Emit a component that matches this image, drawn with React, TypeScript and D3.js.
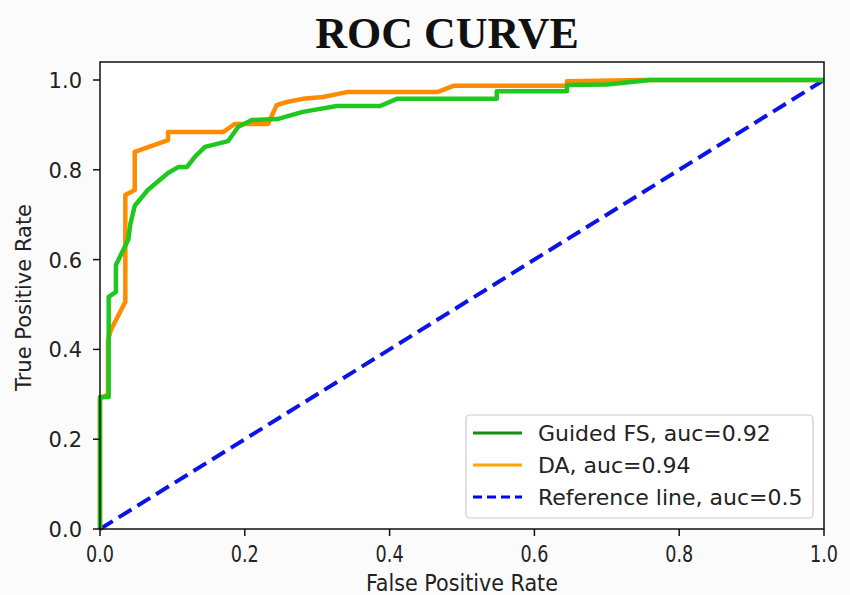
import React from "react";
import * as d3 from "d3";

const guidedFpr = [0, 0, 0.012, 0.012, 0.022, 0.022, 0.039, 0.042, 0.048, 0.066, 0.094, 0.108, 0.12, 0.131, 0.145, 0.177, 0.191, 0.21, 0.245, 0.28, 0.327, 0.387, 0.41, 0.548, 0.548, 0.645, 0.645, 0.7, 0.76, 1];
const guidedTpr = [0, 0.294, 0.294, 0.517, 0.528, 0.588, 0.644, 0.68, 0.72, 0.755, 0.793, 0.806, 0.806, 0.829, 0.851, 0.864, 0.896, 0.911, 0.913, 0.929, 0.942, 0.942, 0.958, 0.958, 0.975, 0.975, 0.989, 0.99, 1, 1];

const daFpr = [0, 0, 0.011, 0.011, 0.015, 0.035, 0.035, 0.048, 0.048, 0.094, 0.094, 0.17, 0.186, 0.232, 0.244, 0.258, 0.28, 0.308, 0.341, 0.466, 0.488, 0.645, 0.645, 0.75, 1];
const daTpr = [0, 0.29, 0.3, 0.42, 0.443, 0.506, 0.744, 0.755, 0.84, 0.866, 0.884, 0.884, 0.902, 0.902, 0.944, 0.951, 0.958, 0.962, 0.973, 0.973, 0.987, 0.987, 0.997, 1, 1];

const refFpr = [0, 1];
const refTpr = [0, 1];

const xTicks = [0, 0.2, 0.4, 0.6, 0.8, 1.0];
const yTicks = [0, 0.2, 0.4, 0.6, 0.8, 1.0];

const legendLabels = ["Guided FS, auc=0.92", "DA, auc=0.94", "Reference line, auc=0.5"];

const W = 850, H = 595;
const left = 100, right = 824, top = 62, bottom = 529;

export default function App() {
  const x = d3.scaleLinear().domain([0, 1]).range([left, right]);
  const y = d3.scaleLinear().domain([0, 1]).range([bottom, 80]);
  const line = d3.line<[number, number]>().x(d => x(d[0])).y(d => y(d[1]));
  const zip = (a: number[], b: number[]) => a.map((v, i) => [v, b[i]] as [number, number]);

  const legendRows = [
    { label: legendLabels[0], color: "#138d13", dash: "" },
    { label: legendLabels[1], color: "#ffa500", dash: "" },
    { label: legendLabels[2], color: "#0000ff", dash: "9,5" },
  ];

  return (
    <svg width={W} height={H} style={{ position: "absolute", left: 0, top: 0, background: "#fdfdfd" }}>
      <rect x={0} y={0} width={W} height={H} fill="#fbfbfb" />
      <rect x={left} y={top} width={right - left} height={bottom - top} fill="#ffffff" />
      <text x={447} y={48} textAnchor="middle" fontFamily="Liberation Serif, serif" fontWeight="bold" fontSize={44} fill="#111">ROC CURVE</text>

      <path d={line(zip(refFpr, refTpr)) || ""} fill="none" stroke="#0a14e6" strokeWidth={4} strokeDasharray="15,7" />
      <path d={line(zip(daFpr, daTpr)) || ""} fill="none" stroke="#ff8c00" strokeWidth={4.5} strokeLinejoin="round" />
      <path d={line(zip(guidedFpr, guidedTpr)) || ""} fill="none" stroke="#1ec81e" strokeWidth={4.5} strokeLinejoin="round" />

      <rect x={left} y={top} width={right - left} height={bottom - top} fill="none" stroke="#111" strokeWidth={1.5} />

      {xTicks.map(t => (
        <g key={"x" + t}>
          <line x1={x(t)} x2={x(t)} y1={bottom} y2={bottom + 7} stroke="#111" strokeWidth={1.5} />
          <text x={x(t)} y={bottom + 33} textAnchor="middle" fontFamily="DejaVu Sans Condensed, DejaVu Sans" fontSize={23} fill="#222" transform={`translate(${x(t)},0) scale(0.85,1) translate(${-x(t)},0)`}>{t.toFixed(1)}</text>
        </g>
      ))}
      {yTicks.map(t => (
        <g key={"y" + t}>
          <line x1={left - 7} x2={left} y1={y(t)} y2={y(t)} stroke="#111" strokeWidth={1.5} />
          <text x={left - 18} y={y(t) + 8} textAnchor="end" fontFamily="DejaVu Sans" fontSize={21} fill="#222">{t.toFixed(1)}</text>
        </g>
      ))}

      <text x={462} y={591} textAnchor="middle" fontFamily="DejaVu Sans Condensed, DejaVu Sans" fontSize={23} fill="#222">False Positive Rate</text>
      <text transform={`translate(31,${(top + bottom) / 2 + 2}) rotate(-90)`} textAnchor="middle" fontFamily="DejaVu Sans" fontSize={21} fill="#222">True Positive Rate</text>

      <rect x={466} y={415} width={347} height={103} rx={4} fill="#ffffff" stroke="#cccccc" strokeWidth={1.2} />
      {legendRows.map((r, i) => (
        <g key={r.label}>
          <line x1={473} x2={522} y1={433 + i * 32} y2={433 + i * 32} stroke={r.color} strokeWidth={3.2} strokeDasharray={r.dash} />
          <text x={538} y={433 + i * 32 + 8} fontFamily="DejaVu Sans" fontSize={22} fill="#222">{r.label}</text>
        </g>
      ))}
    </svg>
  );
}
